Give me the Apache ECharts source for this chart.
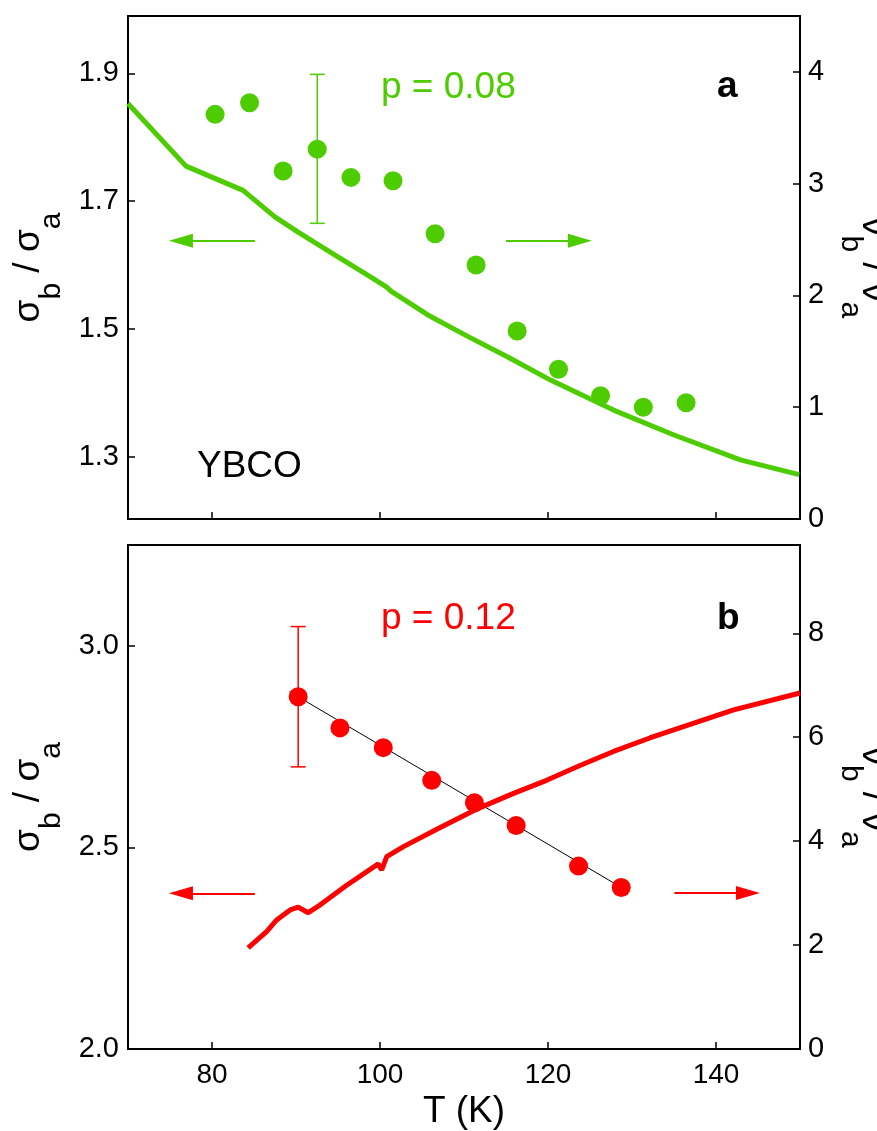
<!DOCTYPE html>
<html><head><meta charset="utf-8">
<script src="https://cdn.jsdelivr.net/npm/echarts@6/dist/echarts.min.js"></script>
<style>html,body{margin:0;padding:0;background:#fff}#c{width:877px;height:1131px}</style>
</head><body><div id="c"></div>
<script>
// ---- data ----
const xTicks = [80, 100, 120, 140];
const topLeftTicks = [1.3, 1.5, 1.7, 1.9];
const topRightTicks = [0, 1, 2, 3, 4];
const botLeftTicks = [2.0, 2.5, 3.0];
const botRightTicks = [0, 2, 4, 6, 8];

// panel a : sigma_b/sigma_a (line) and nu_b/nu_a (points)
const sigA_T = [70, 76.9, 83.7, 87.45, 90.2, 94.6, 98.2, 100.75, 101.35, 105.7, 110.5, 115.1, 120.3, 127.8, 135, 142.9, 149.9];
const sigA_V = [1.853, 1.755, 1.717, 1.676, 1.652, 1.616, 1.587, 1.566, 1.559, 1.522, 1.488, 1.457, 1.420, 1.373, 1.334, 1.295, 1.272];
const nuA_T = [80.37, 84.47, 88.47, 92.53, 96.54, 101.55, 106.56, 111.44, 116.33, 121.25, 126.26, 131.35, 136.44];
const nuA_V = [3.62, 3.724, 3.113, 3.309, 3.056, 3.026, 2.552, 2.272, 1.682, 1.339, 1.103, 0.999, 1.040];
const errA = [[92.53, 2.645, 3.978]];

// panel b
const sigB_T = [84.3, 86.5, 87.7, 89.3, 90.26, 91.45, 92.85, 96.03, 99.8, 100.2, 100.8, 102.8, 106.76, 111.3, 115.9, 119.9, 123.8, 127.8, 132.2, 142.1, 150];
const sigB_V = [2.251, 2.291, 2.320, 2.345, 2.352, 2.338, 2.357, 2.406, 2.459, 2.444, 2.477, 2.502, 2.545, 2.593, 2.634, 2.667, 2.703, 2.738, 2.772, 2.841, 2.883];
const nuB_T = [90.26, 95.23, 100.39, 106.16, 111.24, 116.21, 123.64, 128.72];
const nuB_V = [6.78, 6.18, 5.80, 5.17, 4.74, 4.30, 3.52, 3.11];
const fitB_T = [89.2, 128.72];
const fitB_V = [6.88, 3.11];
const errB = [[90.26, 5.43, 8.13]];

// arrows (data coordinates)
const arrowA_left = [[85.1, 1.638], [76.3, 1.638]];
const arrowA_right = [[115.0, 2.49], [123.8, 2.49]];
const arrowB_left = [[85.1, 2.386], [76.3, 2.386]];
const arrowB_right = [[135.05, 3.0], [143.8, 3.0]];

const GREEN = '#4dcc00';
const RED = '#ff0000';
const FONT = '"Liberation Sans", Arial, Helvetica, sans-serif';

const zip = (a, b) => a.map((v, i) => [v, b[i]]);

function errRender(params, api) {
  const x = api.value(0), lo = api.value(1), hi = api.value(2);
  const pLo = api.coord([x, lo]), pHi = api.coord([x, hi]);
  const cap = 7.5;
  const st = () => ({ stroke: api.visual('color'), lineWidth: 1.5 });
  return { type: 'group', children: [
    { type: 'line', shape: { x1: pLo[0], y1: pLo[1], x2: pHi[0], y2: pHi[1] }, style: st() },
    { type: 'line', shape: { x1: pLo[0] - cap, y1: pLo[1], x2: pLo[0] + cap, y2: pLo[1] }, style: st() },
    { type: 'line', shape: { x1: pHi[0] - cap, y1: pHi[1], x2: pHi[0] + cap, y2: pHi[1] }, style: st() }
  ]};
}

function arrowMark(pts, color) {
  return {
    silent: true, animation: false,
    symbol: ['none', 'triangle'], symbolSize: [14, 24],
    label: { show: false },
    lineStyle: { color: color, width: 2, type: 'solid' },
    itemStyle: { color: color },
    data: [[{ coord: pts[0] }, { coord: pts[1] }]]
  };
}

const richName = {
  m: { fontSize: 37, fontFamily: FONT, color: '#000', lineHeight: 76 },
  s: { fontSize: 30, fontFamily: FONT, color: '#000', lineHeight: 30, verticalAlign: 'bottom' }
};

function xAxis(grid, showLabels) {
  return {
    type: 'value', gridIndex: grid, min: 70, max: 150,
    axisLine: { lineStyle: { color: '#000', width: 2 } },
    axisTick: { inside: true, length: 7, customValues: xTicks, lineStyle: { color: '#000', width: 1.5 } },
    axisLabel: { show: showLabels, customValues: xTicks, fontSize: 28, fontFamily: FONT, color: '#000', margin: 12 },
    splitLine: { show: false },
    name: showLabels ? 'T (K)' : '', nameLocation: 'middle', nameGap: 44,
    nameTextStyle: { fontSize: 37, fontFamily: FONT, color: '#000' }
  };
}

function yAxis(grid, pos, min, max, ticks, dec, name, gap, rot) {
  return {
    type: 'value', gridIndex: grid, position: pos, min: min, max: max,
    axisLine: { show: true, onZero: false, lineStyle: { color: '#000', width: 2 } },
    axisTick: { show: true, inside: true, length: 7, customValues: ticks, lineStyle: { color: '#000', width: 1.5 } },
    axisLabel: { customValues: ticks, fontSize: 29, fontFamily: FONT, color: '#000', margin: pos === 'left' ? 9 : 8,
      formatter: v => v.toFixed(dec) },
    splitLine: { show: false },
    name: name, nameLocation: 'middle', nameGap: gap, nameRotate: rot,
    nameTextStyle: { rich: richName }
  };
}

const chart = echarts.init(document.getElementById('c'), null, { renderer: 'canvas' });
chart.setOption({
  animation: false,
  backgroundColor: '#fff',
  grid: [
    { left: 128, right: 77, top: 16, height: 503, containLabel: false, outerBoundsMode: 'none', show: true, borderColor: '#000', borderWidth: 2, backgroundColor: 'transparent' },
    { left: 128, right: 77, top: 545, height: 504, containLabel: false, outerBoundsMode: 'none', show: true, borderColor: '#000', borderWidth: 2, backgroundColor: 'transparent' }
  ],
  xAxis: [xAxis(0, false), xAxis(1, true)],
  yAxis: [
    yAxis(0, 'left', 1.2025, 1.99, topLeftTicks, 1, '{m|σ}{s|b}{m| / σ}{s|a}', 61, 90),
    yAxis(0, 'right', 0, 4.5, topRightTicks, 0, '{m|ν}{s|b}{m| / ν}{s|a}', 33, -90),
    yAxis(1, 'left', 2.0, 3.25, botLeftTicks, 1, '{m|σ}{s|b}{m| / σ}{s|a}', 61, 90),
    yAxis(1, 'right', 0, 9.7, botRightTicks, 0, '{m|ν}{s|b}{m| / ν}{s|a}', 33, -90)
  ],
  series: [
    { type: 'line', xAxisIndex: 0, yAxisIndex: 0, data: zip(sigA_T, sigA_V), showSymbol: false, symbol: 'none',
      lineStyle: { color: GREEN, width: 5 }, itemStyle: { color: GREEN }, z: 2,
      markLine: arrowMark(arrowA_left, GREEN) },
    { type: 'custom', xAxisIndex: 0, yAxisIndex: 1, data: errA, renderItem: errRender,
      encode: { x: 0, y: [1, 2] }, itemStyle: { color: GREEN }, z: 3 },
    { type: 'scatter', xAxisIndex: 0, yAxisIndex: 1, data: zip(nuA_T, nuA_V), symbolSize: 19,
      itemStyle: { color: GREEN, opacity: 1 }, z: 4,
      markLine: arrowMark(arrowA_right, GREEN) },

    { type: 'line', xAxisIndex: 1, yAxisIndex: 3, data: zip(fitB_T, fitB_V), showSymbol: false, symbol: 'none',
      lineStyle: { color: '#000', width: 1 }, z: 2 },
    { type: 'line', xAxisIndex: 1, yAxisIndex: 2, data: zip(sigB_T, sigB_V), showSymbol: false, symbol: 'none',
      lineStyle: { color: RED, width: 5 }, itemStyle: { color: RED }, z: 3,
      markLine: arrowMark(arrowB_left, RED) },
    { type: 'custom', xAxisIndex: 1, yAxisIndex: 3, data: errB, renderItem: errRender,
      encode: { x: 0, y: [1, 2] }, itemStyle: { color: RED }, z: 3 },
    { type: 'scatter', xAxisIndex: 1, yAxisIndex: 3, data: zip(nuB_T, nuB_V), symbolSize: 19,
      itemStyle: { color: RED, opacity: 1 }, z: 4,
      markLine: arrowMark(arrowB_right, RED) }
  ],
  graphic: [
    { type: 'text', x: 381, y: 87.7, style: { text: 'p = 0.08', font: '37px ' + FONT, fill: GREEN, align: 'left', verticalAlign: 'middle', textAlign: 'left', textVerticalAlign: 'middle' } },
    { type: 'text', x: 717, y: 86.8, style: { text: 'a', font: 'bold 37px ' + FONT, fill: '#000', align: 'left', verticalAlign: 'middle', textAlign: 'left', textVerticalAlign: 'middle' } },
    { type: 'text', x: 197, y: 466.8, style: { text: 'YBCO', font: '37px ' + FONT, fill: '#000', align: 'left', verticalAlign: 'middle', textAlign: 'left', textVerticalAlign: 'middle' } },
    { type: 'text', x: 381, y: 618.7, style: { text: 'p = 0.12', font: '37px ' + FONT, fill: RED, align: 'left', verticalAlign: 'middle', textAlign: 'left', textVerticalAlign: 'middle' } },
    { type: 'text', x: 717, y: 618.5, style: { text: 'b', font: 'bold 37px ' + FONT, fill: '#000', align: 'left', verticalAlign: 'middle', textAlign: 'left', textVerticalAlign: 'middle' } }
  ]
});
</script>
</body></html>
